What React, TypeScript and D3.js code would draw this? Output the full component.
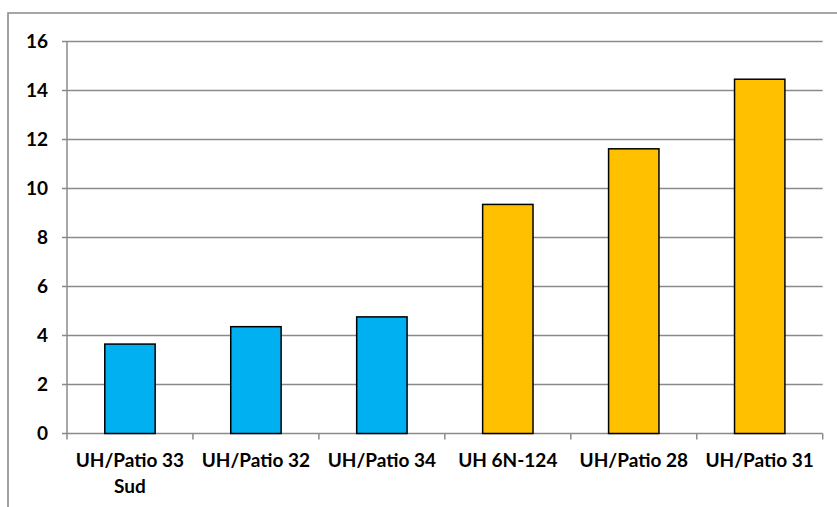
import React from "react";
import * as d3 from "d3";

const categories: string[][] = [
  ["UH/Patio 33", "Sud"],
  ["UH/Patio 32"],
  ["UH/Patio 34"],
  ["UH 6N-124"],
  ["UH/Patio 28"],
  ["UH/Patio 31"],
];
const values: number[] = [3.65, 4.36, 4.76, 9.35, 11.62, 14.46];
const groups: string[] = ["blue", "blue", "blue", "orange", "orange", "orange"];
const groupColors: Record<string, string> = { blue: "#00B0F0", orange: "#FFC000" };
const yTicks: number[] = [0, 2, 4, 6, 8, 10, 12, 14, 16];

const W = 837;
const H = 507;
const left = 67;
const right = 822.7;
const top = 41.5;
const bottom = 433.5;
const gridColor = "#8a8a8a";
const font = "Lato, 'Liberation Sans', Arial, sans-serif";

export default function App() {
  const x = d3
    .scaleBand<number>()
    .domain(d3.range(categories.length))
    .range([left, right])
    .paddingInner(0.6)
    .paddingOuter(0.3);
  const step = (right - left) / categories.length;
  const y = d3.scaleLinear().domain([0, 16]).range([bottom, top]);

  return (
    <svg
      width={W}
      height={H}
      style={{ position: "absolute", left: 0, top: 0, background: "#fff" }}
    >
      <rect x={0} y={0} width={W} height={H} fill="#fff" />
      {/* outer frame */}
      <path
        d={`M8,${H + 2} L8,13 L${W + 2},13`}
        fill="none"
        stroke={gridColor}
        strokeWidth={1.6}
      />
      {/* gridlines */}
      {yTicks.map((t) => (
        <line
          key={"g" + t}
          x1={left - 5}
          x2={right}
          y1={y(t)}
          y2={y(t)}
          stroke={gridColor}
          strokeWidth={1.5}
        />
      ))}
      {/* y axis line */}
      <line x1={left} x2={left} y1={top} y2={bottom} stroke={gridColor} strokeWidth={1.5} />
      {/* x tick marks */}
      {d3.range(categories.length + 1).map((i) => (
        <line
          key={"xt" + i}
          x1={left + i * step}
          x2={left + i * step}
          y1={bottom}
          y2={bottom + 6}
          stroke={gridColor}
          strokeWidth={1.5}
        />
      ))}
      {/* y labels */}
      {yTicks.map((t) => (
        <text
          key={"yl" + t}
          x={48}
          y={y(t)}
          dy="0.36em"
          textAnchor="end"
          fontFamily={font}
          fontWeight="bold"
          fontSize={19}
          fill="#000"
        >
          {t}
        </text>
      ))}
      {/* bars */}
      {values.map((v, i) => (
        <rect
          key={"b" + i}
          x={x(i)!}
          y={y(v)}
          width={x.bandwidth()}
          height={y(0) - y(v)}
          fill={groupColors[groups[i]]}
          stroke="#000"
          strokeWidth={1.5}
        />
      ))}
      {/* x labels */}
      {categories.map((lines, i) => (
        <text
          key={"xl" + i}
          x={x(i)! + x.bandwidth() / 2}
          y={467}
          textAnchor="middle"
          fontFamily={font}
          fontWeight="bold"
          fontSize={19}
          fill="#000"
        >
          {lines.map((ln, j) => (
            <tspan key={j} x={x(i)! + x.bandwidth() / 2} dy={j === 0 ? 0 : 26}>
              {ln}
            </tspan>
          ))}
        </text>
      ))}
    </svg>
  );
}
